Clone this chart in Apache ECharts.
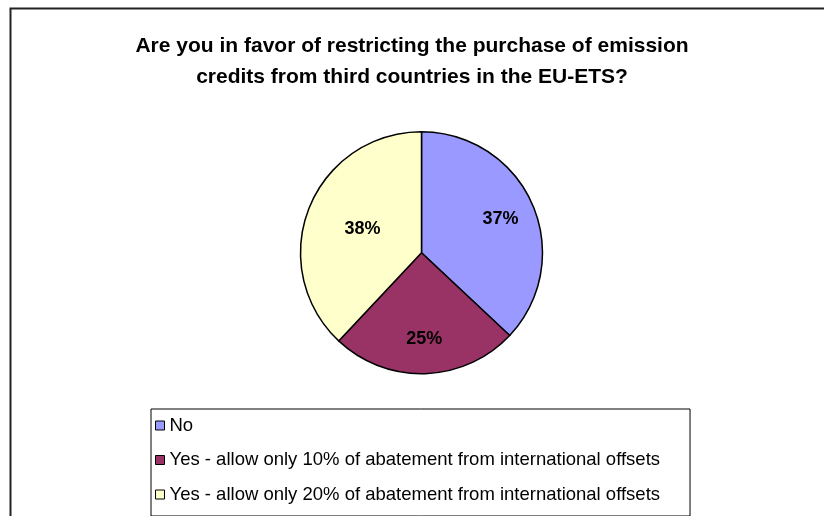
<!DOCTYPE html>
<html>
<head>
<meta charset="utf-8">
<style>
  html, body { margin: 0; padding: 0; background: #fff; }
  #chart { width: 824px; height: 516px; }
</style>
<script src="https://cdn.jsdelivr.net/npm/echarts@6/dist/echarts.min.js"></script>
</head>
<body>
<div id="chart"></div>
<script>
// Survey answers and their shares (percent)
const categories = [
  'No',
  'Yes - allow only 10% of abatement from international offsets',
  'Yes - allow only 20% of abatement from international offsets'
];
const shares = [37, 25, 38];
const sliceColors = ['#9999FF', '#993366', '#FFFFCC'];
const titleText = 'Are you in favor of restricting the purchase of emission\ncredits from third countries in the EU-ETS?';

const FONT = '"Liberation Sans", Arial, sans-serif';
const CENTER = [421.5, 252.7];
const RADIUS = 121;

const slices = categories.map((name, i) => ({
  name,
  value: shares[i],
  itemStyle: { color: sliceColors[i] },
  // the larger right slices get their labels from the wider label ring below
  label: { show: i === 2 }
}));

// transparent ring used only to place percentage labels further out
const labelRing = categories.map((name, i) => ({
  name,
  value: shares[i],
  label: { show: i !== 2 }
}));

const pctLabel = {
  position: 'inside',
  formatter: p => p.value + '%',
  color: '#000',
  fontFamily: FONT,
  fontWeight: 'bold',
  fontSize: 18
};

const chart = echarts.init(document.getElementById('chart'), null, { renderer: 'canvas' });
chart.setOption({
  animation: false,
  backgroundColor: '#fff',
  title: {
    text: titleText,
    left: 'center',
    top: 31,
    padding: [0, 0, 0, 20],
    textStyle: {
      fontFamily: FONT,
      fontWeight: 'bold',
      fontSize: 21,
      lineHeight: 31,
      color: '#000'
    }
  },
  legend: {
    orient: 'vertical',
    left: 151,
    top: 409,
    padding: [7, 30, 12, 4],
    itemGap: 15.5,
    itemWidth: 9,
    itemHeight: 9,
    icon: 'rect',
    borderColor: '#000',
    borderWidth: 1,
    data: categories,
    selectedMode: false,
    itemStyle: { borderColor: '#000', borderWidth: 1 },
    textStyle: { fontFamily: FONT, fontSize: 18.5, color: '#000' }
  },
  graphic: [{
    type: 'rect',
    left: 8,
    top: 6,
    shape: { width: 840, height: 540 },
    style: { fill: 'none', stroke: '#222', lineWidth: 2 },
    silent: true,
    z: 100
  }],
  series: [
    {
      type: 'pie',
      center: CENTER,
      radius: RADIUS,
      startAngle: 90,
      clockwise: true,
      silent: true,
      itemStyle: { borderColor: '#000', borderWidth: 1.5 },
      label: pctLabel,
      labelLine: { show: false },
      emphasis: { disabled: true },
      data: slices
    },
    {
      type: 'pie',
      center: CENTER,
      radius: 166,
      startAngle: 90,
      clockwise: true,
      silent: true,
      z: 3,
      itemStyle: { color: 'rgba(0,0,0,0)', borderWidth: 0 },
      label: pctLabel,
      labelLine: { show: false },
      emphasis: { disabled: true },
      data: labelRing
    }
  ]
});
</script>
</body>
</html>
